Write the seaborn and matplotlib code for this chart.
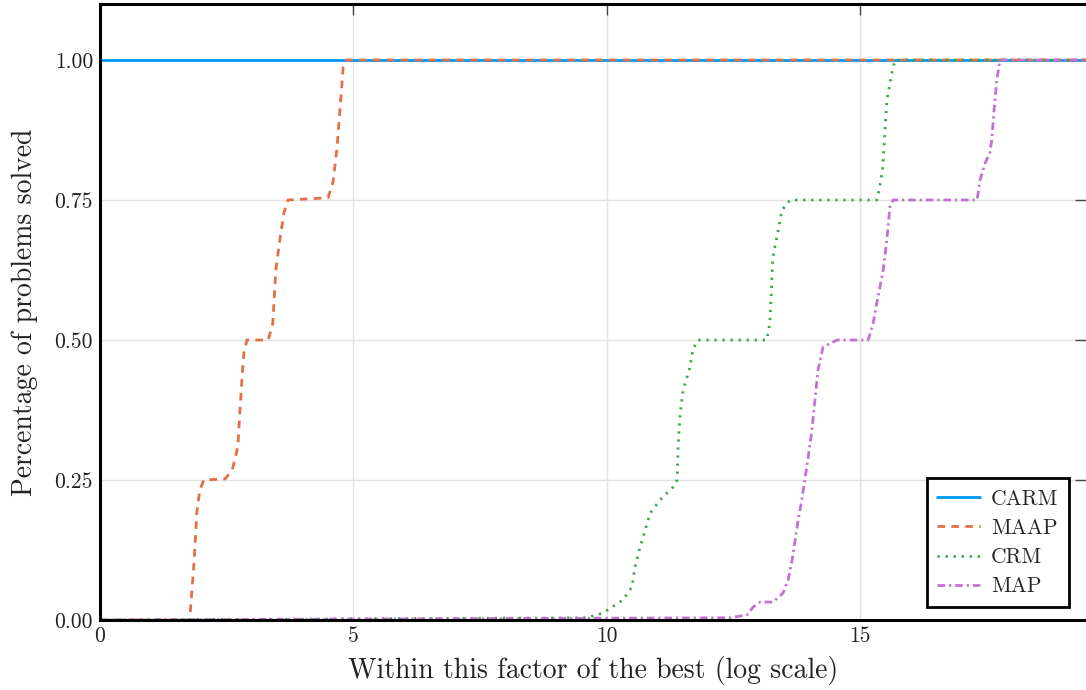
import matplotlib
matplotlib.use("Agg")
import matplotlib.pyplot as plt
import seaborn as sns

# ---- data ----
labels = ["CARM", "MAAP", "CRM", "MAP"]

carm_x = [0.0, 19.6]
carm_y = [1.0, 1.0]

maap_x = [0.0, 1.76, 1.78, 1.86, 1.91, 1.97, 2.05, 2.47, 2.61, 2.72, 2.76, 2.80, 2.84,
          2.90, 3.32, 3.41, 3.47, 3.55, 3.63, 3.71, 4.50, 4.60, 4.68, 4.74, 4.80, 4.86, 19.6]
maap_y = [0.0, 0.0, 0.0125, 0.107, 0.191, 0.232, 0.25, 0.252, 0.268, 0.309, 0.37, 0.429, 0.477,
          0.5, 0.5, 0.53, 0.625, 0.679, 0.727, 0.75, 0.754, 0.782, 0.845, 0.916, 0.9875, 1.0, 1.0]

crm_x = [0.0, 9.61, 9.93, 10.32, 10.50, 10.56, 10.66, 10.76, 10.86, 11.05, 11.31, 11.39, 11.41,
         11.45, 11.51, 11.64, 11.70, 11.80, 13.16, 13.22, 13.26, 13.28, 13.36, 13.46, 13.62,
         15.33, 15.39, 15.45, 15.49, 15.53, 15.63, 15.69, 19.6]
crm_y = [0.0, 0.004, 0.0125, 0.036, 0.059, 0.095, 0.13, 0.161, 0.191, 0.214, 0.2375, 0.25, 0.309,
         0.37, 0.411, 0.45, 0.482, 0.5, 0.5, 0.53, 0.607, 0.648, 0.684, 0.732, 0.75,
         0.75, 0.773, 0.809, 0.87, 0.929, 0.977, 1.0, 1.0]

map_x = [0.0, 12.43, 12.77, 12.89, 13.03, 13.28, 13.48, 13.58, 13.66, 13.72, 13.78, 13.85, 13.91,
         13.97, 14.05, 14.11, 14.17, 14.27, 14.55, 15.16, 15.26, 15.33, 15.45, 15.53, 15.59, 15.65,
         17.31, 17.37, 17.47, 17.56, 17.60, 17.64, 17.70, 17.76, 19.6]
map_y = [0.0, 0.004, 0.009, 0.023, 0.032, 0.032, 0.048, 0.071, 0.107, 0.143, 0.179, 0.214, 0.25,
         0.286, 0.339, 0.393, 0.446, 0.4875, 0.5, 0.5, 0.53, 0.566, 0.62, 0.679, 0.7375, 0.75,
         0.75, 0.786, 0.816, 0.834, 0.857, 0.905, 0.964, 1.0, 1.0]

x_ticks = [0, 5, 10, 15]
y_ticks = [0.0, 0.25, 0.5, 0.75, 1.0]
y_ticklabels = ["0.00", "0.25", "0.50", "0.75", "1.00"]

colors = ["#009AFA", "#E36F47", "#3EA44E", "#C371D2"]
styles = ["-", (0, (5.5, 4.5)), (0, (1.6, 4.2)), (0, (5.5, 2.8, 1.6, 2.8))]

# ---- style ----
sns.set_theme(style="white")
plt.rcParams["font.family"] = ["cmr10", "DejaVu Serif"]
plt.rcParams["mathtext.fontset"] = "cm"
plt.rcParams["axes.formatter.use_mathtext"] = True
plt.rcParams["lines.scale_dashes"] = False

fig = plt.figure(figsize=(10.86, 6.90), dpi=100)
ax = fig.add_axes([100 / 1086, 70 / 690, 986 / 1086, 616 / 690])

series = [(carm_x, carm_y), (maap_x, maap_y), (crm_x, crm_y), (map_x, map_y)]
for (xs, ys), lab, col, ls in zip(series, labels, colors, styles):
    sns.lineplot(x=xs, y=ys, ax=ax, color=col, linestyle=ls, lw=2.0,
                 label=lab, sort=False, estimator=None)

ax.set_xlim(0, 19.46)
ax.set_ylim(0, 1.1)
ax.set_xticks(x_ticks)
ax.set_xticklabels([str(t) for t in x_ticks])
ax.set_yticks(y_ticks)
ax.set_yticklabels(y_ticklabels)

ax.grid(True, color="#e3e3e3", lw=1.0)
ax.set_axisbelow(True)

ax.tick_params(axis="both", direction="in", length=8, width=1.0, color="#444444",
               labelsize=15.5, top=True, right=True, pad=5, labelcolor="#222222")

for side in ["left", "top", "bottom"]:
    ax.spines[side].set_visible(True)
    ax.spines[side].set_color("black")
    ax.spines[side].set_linewidth(2.2)
ax.spines["right"].set_visible(False)

ax.set_xlabel("Within this factor of the best (log scale)", fontsize=20, labelpad=7, color="#222222")
ax.set_ylabel("Percentage of problems solved", fontsize=20, labelpad=12, color="#222222")

leg = ax.legend(loc="lower right", bbox_to_anchor=(0.983, 0.021), borderaxespad=0,
                fontsize=15.5, handlelength=2.0, fancybox=False, framealpha=1,
                edgecolor="black", borderpad=0.5, labelspacing=0.45, handletextpad=0.5)
leg.get_frame().set_linewidth(2.0)

fig.savefig("out.png", dpi=100)
